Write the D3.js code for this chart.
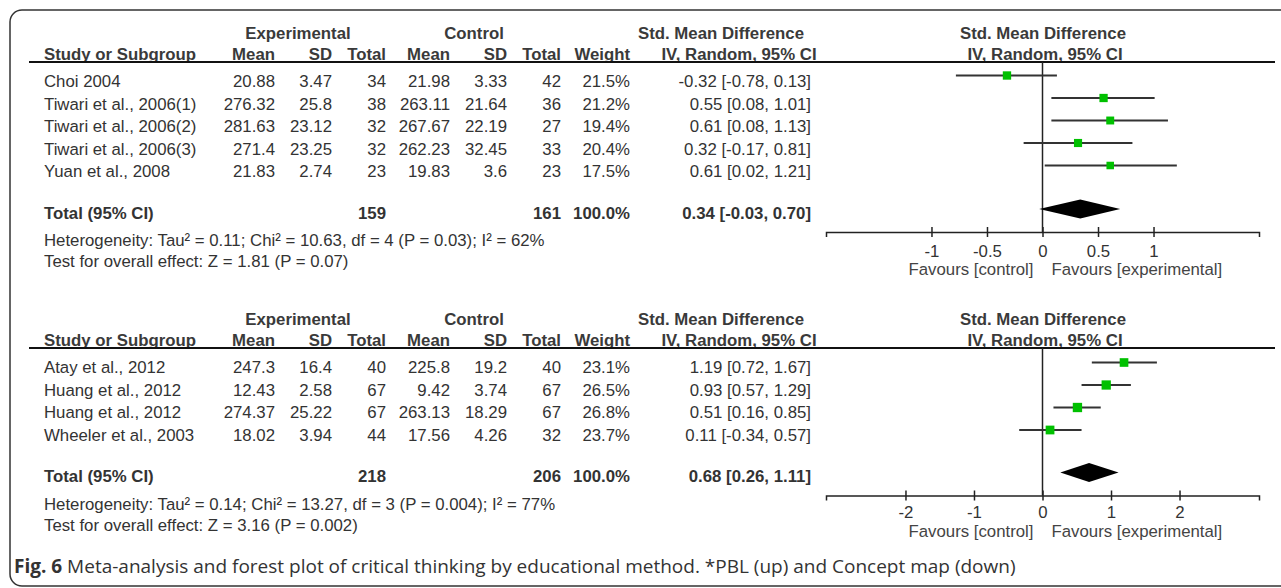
<!DOCTYPE html>
<html>
<head>
<meta charset="utf-8">
<script src="https://cdn.jsdelivr.net/npm/d3@7"></script>
<style>
  body { margin: 0; background: #fff; }
  text { font-family: "Liberation Sans", Arial, sans-serif; }
</style>
</head>
<body>
<script>
// Panel 1: PBL
const studies1 = ["Choi 2004", "Tiwari et al., 2006(1)", "Tiwari et al., 2006(2)", "Tiwari et al., 2006(3)", "Yuan et al., 2008"];
const expMean1 = [20.88, 276.32, 281.63, 271.4, 21.83];
const expSD1 = [3.47, 25.8, 23.12, 23.25, 2.74];
const expN1 = [34, 38, 32, 32, 23];
const ctlMean1 = [21.98, 263.11, 267.67, 262.23, 19.83];
const ctlSD1 = [3.33, 21.64, 22.19, 32.45, 3.6];
const ctlN1 = [42, 36, 27, 33, 23];
const weight1 = [21.5, 21.2, 19.4, 20.4, 17.5];
const smd1 = [-0.32, 0.55, 0.61, 0.32, 0.61];
const lo1 = [-0.78, 0.08, 0.08, -0.17, 0.02];
const hi1 = [0.13, 1.01, 1.13, 0.81, 1.21];
const totalN1 = [159, 161];
const pooled1 = [0.34, -0.03, 0.70];
const ticks1 = [-1, -0.5, 0, 0.5, 1];
const hetero1 = "Heterogeneity: Tau² = 0.11; Chi² = 10.63, df = 4 (P = 0.03); I² = 62%";
const overall1 = "Test for overall effect: Z = 1.81 (P = 0.07)";

// Panel 2: Concept map
const studies2 = ["Atay et al., 2012", "Huang et al., 2012", "Huang et al., 2012", "Wheeler et al., 2003"];
const expMean2 = [247.3, 12.43, 274.37, 18.02];
const expSD2 = [16.4, 2.58, 25.22, 3.94];
const expN2 = [40, 67, 67, 44];
const ctlMean2 = [225.8, 9.42, 263.13, 17.56];
const ctlSD2 = [19.2, 3.74, 18.29, 4.26];
const ctlN2 = [40, 67, 67, 32];
const weight2 = [23.1, 26.5, 26.8, 23.7];
const smd2 = [1.19, 0.93, 0.51, 0.11];
const lo2 = [0.72, 0.57, 0.16, -0.34];
const hi2 = [1.67, 1.29, 0.85, 0.57];
const totalN2 = [218, 206];
const pooled2 = [0.68, 0.26, 1.11];
const ticks2 = [-2, -1, 0, 1, 2];
const hetero2 = "Heterogeneity: Tau² = 0.14; Chi² = 13.27, df = 3 (P = 0.004); I² = 77%";
const overall2 = "Test for overall effect: Z = 3.16 (P = 0.002)";

const width = 1281, height = 588;
const fs = 16.8;
const txt = "#333";

const svg = d3.select("body").append("svg")
    .attr("width", width)
    .attr("height", height);

// Rounded frame
svg.append("rect")
    .attr("x", 10).attr("y", 10)
    .attr("width", 1300).attr("height", 576)
    .attr("rx", 12)
    .attr("fill", "none")
    .attr("stroke", "#333")
    .attr("stroke-width", 1.5);

// Column right edges
const cols = [275, 332, 386, 450, 507, 561, 630, 811];

// plain hyphen minus, as in the RevMan output
const fmt2 = (v) => v.toFixed(2);

function drawPanel(y0, p) {
    const g = svg.append("g").attr("transform", `translate(0, ${y0})`);
    const n = p.studies.length;
    const rowY = d3.scaleLinear().domain([0, 1]).range([87, 109.5]);
    const lastY = rowY(n - 1);
    const totalY = lastY + 41.5;
    const axisY = totalY + 13.5;

    // Group headers
    const hdr = [["Experimental", 298], ["Control", 474], ["Std. Mean Difference", 721], ["Std. Mean Difference", 1043]];
    hdr.forEach(([t, x]) => g.append("text").attr("x", x).attr("y", 39)
        .attr("text-anchor", "middle").attr("font-size", fs).attr("font-weight", "bold")
        .attr("fill", "#3a3a3a").text(t));

    // Column headers
    g.append("text").attr("x", 44).attr("y", 60).attr("font-size", fs)
        .attr("font-weight", "bold").attr("fill", "#3a3a3a").text("Study or Subgroup");
    const colHdr = ["Mean", "SD", "Total", "Mean", "SD", "Total", "Weight"];
    colHdr.forEach((t, i) => g.append("text").attr("x", cols[i]).attr("y", 60)
        .attr("text-anchor", "end").attr("font-size", fs).attr("font-weight", "bold")
        .attr("fill", "#3a3a3a").text(t));
    [["IV, Random, 95% CI", 739], ["IV, Random, 95% CI", 1045]].forEach(([t, x]) =>
        g.append("text").attr("x", x).attr("y", 60).attr("text-anchor", "middle")
            .attr("font-size", fs).attr("font-weight", "bold").attr("fill", "#3a3a3a").text(t));

    // Header rule
    g.append("line").attr("x1", 29).attr("x2", 1275).attr("y1", 62).attr("y2", 62)
        .attr("stroke", "#111").attr("stroke-width", 2);

    // Table rows
    for (let i = 0; i < n; i++) {
        const y = rowY(i);
        g.append("text").attr("x", 44).attr("y", y).attr("font-size", fs).attr("fill", txt).text(p.studies[i]);
        const vals = [p.expMean[i], p.expSD[i], p.expN[i], p.ctlMean[i], p.ctlSD[i], p.ctlN[i],
            p.weight[i].toFixed(1) + "%",
            `${fmt2(p.smd[i])} [${fmt2(p.lo[i])}, ${fmt2(p.hi[i])}]`];
        vals.forEach((v, j) => g.append("text").attr("x", cols[j]).attr("y", y)
            .attr("text-anchor", "end").attr("font-size", fs).attr("fill", txt).text(String(v)));
    }

    // Total row
    g.append("text").attr("x", 44).attr("y", totalY).attr("font-size", fs)
        .attr("font-weight", "bold").attr("fill", txt).text("Total (95% CI)");
    const tv = [[p.totalN[0], cols[2]], [p.totalN[1], cols[5]], ["100.0%", cols[6]],
        [`${fmt2(p.pooled[0])} [${fmt2(p.pooled[1])}, ${fmt2(p.pooled[2])}]`, cols[7]]];
    tv.forEach(([t, x]) => g.append("text").attr("x", x).attr("y", totalY).attr("text-anchor", "end")
        .attr("font-size", fs).attr("font-weight", "bold").attr("fill", txt).text(String(t)));

    g.append("text").attr("x", 44).attr("y", totalY + 27.5).attr("font-size", fs).attr("fill", txt).text(p.hetero);
    g.append("text").attr("x", 44).attr("y", totalY + 48.5).attr("font-size", fs).attr("fill", txt).text(p.overall);

    // Forest plot
    const x = d3.scaleLinear().domain(p.domain).range([826, 1259]);
    const x0 = x(0);

    g.append("line").attr("x1", x0).attr("x2", x0).attr("y1", 62).attr("y2", axisY)
        .attr("stroke", "#222").attr("stroke-width", 1.5);

    const ax = g.append("g").attr("transform", `translate(0, ${axisY})`)
        .call(d3.axisBottom(x).tickValues(p.ticks).tickSizeOuter(0).tickSize(5)
            .tickFormat((d) => String(d)));
    ax.select(".domain").attr("stroke", "#222").attr("stroke-width", 1.5);
    ax.selectAll(".tick line").attr("y1", -5).attr("y2", 5).attr("stroke", "#222").attr("stroke-width", 1.5);
    ax.selectAll(".tick text").attr("dy", null).attr("y", p.tickDy)
        .attr("font-size", fs).attr("fill", txt)
        .style("font-family", '"Liberation Sans", Arial, sans-serif');

    g.append("text").attr("x", x0 - 9).attr("y", axisY + p.tickDy + 18.5).attr("text-anchor", "end")
        .attr("font-size", fs).attr("fill", "#444").text("Favours [control]");
    g.append("text").attr("x", x0 + 9).attr("y", axisY + p.tickDy + 18.5).attr("text-anchor", "start")
        .attr("font-size", fs).attr("fill", "#444").text("Favours [experimental]");

    for (let i = 0; i < n; i++) {
        const y = rowY(i) - p.markDy;
        g.append("line").attr("x1", x(p.lo[i])).attr("x2", x(p.hi[i])).attr("y1", y).attr("y2", y)
            .attr("stroke", "#333").attr("stroke-width", 2);
        const s = 1.8 * Math.sqrt(p.weight[i]);
        g.append("rect").attr("x", x(p.smd[i]) - s / 2).attr("y", y - s / 2)
            .attr("width", s).attr("height", s).attr("fill", "#00c000");
    }

    const dy = totalY - 9.5;
    const dh = 9.5;
    g.append("path")
        .attr("d", `M${x(p.pooled[1])},${dy} L${x(p.pooled[0])},${dy - dh} L${x(p.pooled[2])},${dy} L${x(p.pooled[0])},${dy + dh} Z`)
        .attr("fill", "#000");
}

drawPanel(0, {
    studies: studies1, expMean: expMean1, expSD: expSD1, expN: expN1,
    ctlMean: ctlMean1, ctlSD: ctlSD1, ctlN: ctlN1, weight: weight1,
    smd: smd1, lo: lo1, hi: hi1, totalN: totalN1, pooled: pooled1,
    hetero: hetero1, overall: overall1, ticks: ticks1, domain: [-1.95, 1.95],
    tickDy: 24.5, markDy: 11.5
});
drawPanel(286, {
    studies: studies2, expMean: expMean2, expSD: expSD2, expN: expN2,
    ctlMean: ctlMean2, ctlSD: ctlSD2, ctlN: ctlN2, weight: weight2,
    smd: smd2, lo: lo2, hi: hi2, totalN: totalN2, pooled: pooled2,
    hetero: hetero2, overall: overall2, ticks: ticks2, domain: [-3.16, 3.16],
    tickDy: 22.5, markDy: 10.5
});

// Caption
const cap = svg.append("text").attr("x", 14).attr("y", 573)
    .attr("font-size", 19).attr("fill", "#333")
    .style("font-family", '"Open Sans", "Noto Sans", sans-serif');
cap.append("tspan").attr("font-weight", "bold").text("Fig. 6");
cap.append("tspan").text(" Meta-analysis and forest plot of critical thinking by educational method. *PBL (up) and Concept map (down)");
</script>
</body>
</html>
